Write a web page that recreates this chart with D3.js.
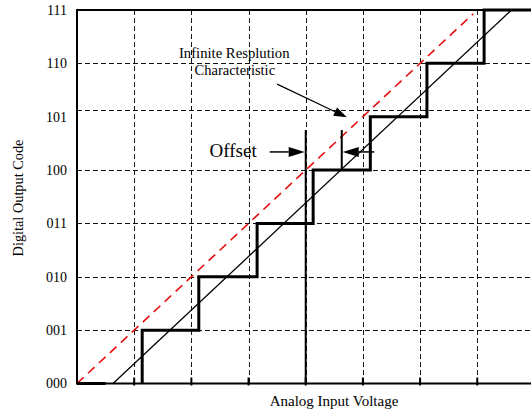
<!DOCTYPE html>
<html>
<head>
<meta charset="utf-8">
<script src="https://cdn.jsdelivr.net/npm/d3@7"></script>
<style>
  html, body { margin: 0; padding: 0; background: #fff; }
  svg { display: block; font-family: "Liberation Serif", "Times New Roman", serif; }
</style>
</head>
<body>
<svg id="chart" width="531" height="412"></svg>
<script>
// ---- data (input voltage in LSB units, output codes as levels) ----
const codeLabels = ["000", "001", "010", "011", "100", "101", "110", "111"];
const codeLevels = [0, 1, 2, 3, 4, 5, 6, 7];
const gridCodeLevels = [1, 2, 3, 4, 5.12, 6];
const gridVoltages = [1, 2, 3, 4, 5, 6, 7];
const stepEdges = [1.14, 2.13, 3.15, 4.13, 5.13, 6.12, 7.12];
const zeroSegment = [0, 0.5];
const idealLine = [[0, 0], [6.93, 6.93]];
const actualLine = [[0.63, 0], [7.6, 7]];
const offsetIdeal = 4.0, offsetActual = 4.63;
const voltageMax = 7.94;

const svg = d3.select("#chart");
const x = d3.scaleLinear().domain([0, voltageMax]).range([77, 531]);
const y = d3.scaleLinear().domain([0, 7]).range([383.5, 10]);

// grid
const grid = svg.append("g").attr("stroke", "#111").attr("stroke-width", 1)
  .attr("stroke-dasharray", "5,3").attr("shape-rendering", "crispEdges");
grid.selectAll("line.h").data(gridCodeLevels).join("line").attr("class", "h")
  .attr("x1", x(0)).attr("x2", x(voltageMax))
  .attr("y1", d => Math.round(y(d)) + 0.5).attr("y2", d => Math.round(y(d)) + 0.5);
grid.selectAll("line.v").data(gridVoltages).join("line").attr("class", "v")
  .attr("x1", d => Math.round(x(d)) + 0.5).attr("x2", d => Math.round(x(d)) + 0.5)
  .attr("y1", y(7)).attr("y2", y(0));

// axes frame
const frame = svg.append("g").attr("stroke", "#000").attr("stroke-width", 2).attr("fill", "none");
frame.append("line").attr("x1", x(0)).attr("x2", x(0)).attr("y1", y(7) - 1).attr("y2", y(0) + 1);
frame.append("line").attr("x1", x(0)).attr("x2", x(voltageMax)).attr("y1", y(0)).attr("y2", y(0));
frame.append("line").attr("x1", x(0)).attr("x2", x(voltageMax)).attr("y1", y(7)).attr("y2", y(7));
// bottom ticks
frame.selectAll("line.tick").data(gridVoltages).join("line").attr("class", "tick")
  .attr("x1", d => x(d)).attr("x2", d => x(d))
  .attr("y1", y(0) - 6).attr("y2", y(0) + 2);

// left tick labels via axis
const yAxis = d3.axisLeft(y).tickValues(codeLevels).tickFormat((d, i) => codeLabels[i])
  .tickSize(0).tickPadding(10);
const ya = svg.append("g").attr("transform", `translate(${x(0)},0)`).call(yAxis);
ya.select(".domain").remove();
ya.selectAll("text").attr("font-size", 14).attr("font-family", "Liberation Serif, serif").attr("fill", "#000");

// ideal (red dashed)
const line = d3.line().x(d => x(d[0])).y(d => y(d[1]));
svg.append("path").datum(idealLine).attr("d", line)
  .attr("stroke", "#e41010").attr("stroke-width", 1.6).attr("stroke-dasharray", "9,6").attr("fill", "none");

// actual transfer line
svg.append("path").datum(actualLine).attr("d", line)
  .attr("stroke", "#000").attr("stroke-width", 1.3).attr("fill", "none");

// staircase
const stairs = [];
for (let i = 0; i < stepEdges.length; i++) {
  stairs.push([stepEdges[i], i]);
  stairs.push([stepEdges[i], i + 1]);
  stairs.push([i + 1 < stepEdges.length ? stepEdges[i + 1] : voltageMax, i + 1]);
}
svg.append("path").datum(stairs).attr("d", line)
  .attr("stroke", "#000").attr("stroke-width", 3).attr("fill", "none").attr("stroke-linejoin", "miter");
svg.append("path").datum([[zeroSegment[0], 0], [zeroSegment[1], 0]]).attr("d", line)
  .attr("stroke", "#000").attr("stroke-width", 3).attr("fill", "none");

// offset markers
const ann = svg.append("g").attr("stroke", "#000").attr("fill", "none");
ann.append("line").attr("x1", x(offsetIdeal)).attr("x2", x(offsetIdeal))
  .attr("y1", y(4.75)).attr("y2", y(0)).attr("stroke-width", 2);
ann.append("line").attr("x1", x(offsetActual)).attr("x2", x(offsetActual))
  .attr("y1", y(4.75)).attr("y2", y(4.0)).attr("stroke-width", 2);

function arrow(x0, y0, x1, y1, len, hw, sw) {
  const dx = x1 - x0, dy = y1 - y0, L = Math.hypot(dx, dy);
  const ux = dx / L, uy = dy / L;
  const bx = x1 - ux * len, by = y1 - uy * len;
  svg.append("line").attr("x1", x0).attr("y1", y0).attr("x2", bx).attr("y2", by)
    .attr("stroke", "#000").attr("stroke-width", sw);
  svg.append("path")
    .attr("d", `M${x1},${y1}L${bx - uy * hw},${by + ux * hw}L${bx + uy * hw},${by - ux * hw}Z`)
    .attr("fill", "#000");
}
const arrowLevel = 4.34;
arrow(x(3.37), y(arrowLevel), x(offsetIdeal) - 1, y(arrowLevel), 16, 5, 1.5);
arrow(x(5.2), y(arrowLevel), x(offsetActual) + 1, y(arrowLevel), 16, 5, 1.5);
arrow(x(3.5), y(5.61), x(4.72), y(4.99), 13, 4.5, 1.2);

// texts
svg.append("text").attr("x", x(2.73)).attr("y", y(4.245)).attr("text-anchor", "middle")
  .attr("font-size", 19).text("Offset");
svg.append("text").attr("x", x(2.75)).attr("y", y(6.10)).attr("text-anchor", "middle")
  .attr("font-size", 14.7).text("Infinite Resplution");
svg.append("text").attr("x", x(2.76)).attr("y", y(5.78)).attr("text-anchor", "middle")
  .attr("font-size", 14.5).text("Characteristic");

// axis titles
svg.append("text").attr("x", 334).attr("y", 406).attr("text-anchor", "middle")
  .attr("font-size", 15).text("Analog Input Voltage");
svg.append("text").attr("transform", "translate(23,198) rotate(-90)").attr("text-anchor", "middle")
  .attr("font-size", 14.3).text("Digital Output Code");
</script>
</body>
</html>
